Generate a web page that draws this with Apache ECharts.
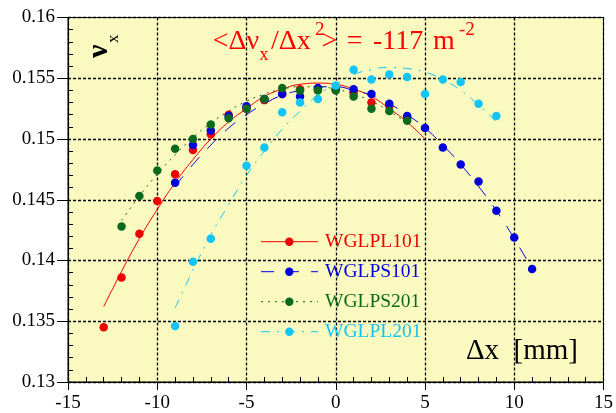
<!DOCTYPE html>
<html>
<head>
<meta charset="utf-8">
<script src="https://cdn.jsdelivr.net/npm/echarts@6/dist/echarts.min.js"></script>
<style>
  html, body { margin: 0; padding: 0; background: #ffffff; }
  #chart { width: 616px; height: 413px; }
</style>
</head>
<body>
<div id="chart"></div>
<script>
// Horizontal tune (nu_x) versus orbit offset dx [mm] for four wiggler settings.

// Measured points
const xPL101 = [-13, -12, -11, -10, -9, -8, -7, -6, -5, -4, -3, -2, -1, 0, 1, 2, 3, 4];
const nuPL101 = [0.1345, 0.1386, 0.1422, 0.1449, 0.1471, 0.1491, 0.1504, 0.1520, 0.1525, 0.1532, 0.1537, 0.1541, 0.1541, 0.1541, 0.1538, 0.1530, 0.1527, 0.1517];

const xPS101 = [-9, -8, -7, -6, -5, -4, -3, -2, -1, 0, 1, 2, 3, 4, 5, 6, 7, 8, 9, 10, 11];
const nuPS101 = [0.1464, 0.1495, 0.1507, 0.1519, 0.1527, 0.1533, 0.1537, 0.1535, 0.1542, 0.1541, 0.1541, 0.1537, 0.1529, 0.1519, 0.1509, 0.1493, 0.1479, 0.1465, 0.1441, 0.1419, 0.1393];

const xPS201 = [-12, -11, -10, -9, -8, -7, -6, -5, -4, -3, -2, -1, 0, 1, 2, 3, 4];
const nuPS201 = [0.1428, 0.1453, 0.1474, 0.1492, 0.1500, 0.1512, 0.1517, 0.1525, 0.1533, 0.1542, 0.1540, 0.1540, 0.1540, 0.1535, 0.1525, 0.1523, 0.1515];

const xPL201 = [-9, -8, -7, -5, -4, -3, -2, -1, 0, 1, 2, 3, 4, 5, 6, 7, 8, 9];
const nuPL201 = [0.1346, 0.1399, 0.1418, 0.1478, 0.1493, 0.1522, 0.1530, 0.1533, 0.1544, 0.1557, 0.1549, 0.1553, 0.1551, 0.1537, 0.1549, 0.1547, 0.1529, 0.1519];

// Parabolic fit curves, sampled every 1 mm over each fit range
const fitXPL101 = [-13, -12, -11, -10, -9, -8, -7, -6, -5, -4, -3, -2, -1, 0, 1, 2, 3, 4, 5];
const fitPL101 = [0.1362, 0.1391, 0.1418, 0.1442, 0.1464, 0.1483, 0.1500, 0.1514, 0.1525, 0.1535, 0.1541, 0.1545, 0.1546, 0.1545, 0.1541, 0.1535, 0.1525, 0.1514, 0.1500];

const fitXPS101 = [-9, -8, -7, -6, -5, -4, -3, -2, -1, 0, 1, 2, 3, 4, 5, 6, 7, 8, 9, 10, 11];
const fitPS101 = [0.1461, 0.1479, 0.1495, 0.1509, 0.1520, 0.1529, 0.1536, 0.1540, 0.1543, 0.1543, 0.1540, 0.1536, 0.1529, 0.1520, 0.1509, 0.1495, 0.1479, 0.1461, 0.1441, 0.1418, 0.1393];

const fitXPS201 = [-12, -11, -10, -9, -8, -7, -6, -5, -4, -3, -2, -1, 0, 1, 2, 3, 4];
const fitPS201 = [0.1433, 0.1453, 0.1471, 0.1487, 0.1501, 0.1513, 0.1523, 0.1531, 0.1537, 0.1541, 0.1543, 0.1543, 0.1541, 0.1537, 0.1531, 0.1523, 0.1513];

const fitXPL201 = [-9, -8, -7, -6, -5, -4, -3, -2, -1, 0, 1, 2, 3, 4, 5, 6, 7, 8, 9];
const fitPL201 = [0.1361, 0.1392, 0.1421, 0.1446, 0.1470, 0.1490, 0.1508, 0.1523, 0.1536, 0.1545, 0.1553, 0.1557, 0.1559, 0.1558, 0.1555, 0.1549, 0.1540, 0.1528, 0.1514];

// Axis ranges and ticks
const xMin = -15, xMax = 15, xStep = 5;
const yMin = 0.13, yMax = 0.16, yStep = 0.005;

const setNames = ['WGLPL101', 'WGLPS101', 'WGLPS201', 'WGLPL201'];

const SERIF = '"Liberation Serif", "Times New Roman", serif';
const COLORS = ['#ee0000', '#0000dd', '#0b6a1e', '#14c4f4'];
const DASHES = ['solid', [13, 12], [2, 5], [9, 7, 2, 7]];

function zip(xs, ys) { return xs.map((x, i) => [x, ys[i]]); }

const pointSets = [zip(xPL101, nuPL101), zip(xPS101, nuPS101), zip(xPS201, nuPS201), zip(xPL201, nuPL201)];
const fitSets = [zip(fitXPL101, fitPL101), zip(fitXPS101, fitPS101), zip(fitXPS201, fitPS201), zip(fitXPL201, fitPL201)];

const series = [];
fitSets.forEach((d, i) => {
  series.push({
    name: setNames[i] + ' fit', type: 'line', data: d, smooth: true,
    showSymbol: false, symbol: 'none', z: 2, silent: true,
    lineStyle: { color: COLORS[i], width: 1, type: DASHES[i] }
  });
});
pointSets.forEach((d, i) => {
  series.push({
    name: setNames[i], type: 'scatter', data: d, symbol: 'circle', symbolSize: 8.5, z: 3 + i,
    itemStyle: { color: COLORS[i], opacity: 1 }
  });
});

// Legend block
const legendTop = 241.7, legendGap = 30;
const legendGraphics = [];
setNames.forEach((n, i) => {
  const y = legendTop + i * legendGap;
  legendGraphics.push({
    type: 'line', shape: { x1: 261, y1: y, x2: 318, y2: y },
    style: { stroke: COLORS[i], lineWidth: 1, lineDash: DASHES[i] === 'solid' ? null : DASHES[i] }, z: 10
  });
  legendGraphics.push({
    type: 'circle', shape: { cx: 289.3, cy: y, r: 4.2 }, style: { fill: COLORS[i] }, z: 11
  });
  legendGraphics.push({
    type: 'text', x: 325, y: y, z: 11,
    style: { text: n, fill: COLORS[i], font: '19.5px ' + SERIF, verticalAlign: 'middle', align: 'left' }
  });
});

function txt(s, x, y, size, color, align, weight) {
  return { type: 'text', x: x, y: y, z: 12,
    style: { text: s, fill: color, font: (weight ? weight + ' ' : '') + size + 'px ' + SERIF,
      verticalAlign: 'middle', align: align || 'left' } };
}

const RED = '#ff0000';
const titleGraphics = [
  txt('<\u0394\u03bd', 212.7, 41.5, 28, RED),
  txt('x', 259.5, 55.6, 18, RED),
  txt('/\u0394x', 271, 41.5, 28, RED),
  txt('2', 315, 30.4, 19, RED),
  txt('>', 321.5, 41.5, 28, RED),
  txt('=', 346.7, 41.5, 28, RED),
  txt('-117', 373, 41.5, 28, RED),
  txt('m', 433, 41.5, 28, RED),
  txt('-2', 459, 30.4, 19, RED)
];

const axisNameGraphic = {
  type: 'group', x: 99, y: 58, rotation: Math.PI / 2, z: 12,
  children: [
    { type: 'text', x: 0, y: 0, style: { text: '\u03bd', fill: '#000', font: 'bold 30px ' + SERIF, verticalAlign: 'middle', align: 'left' } },
    { type: 'text', x: 15, y: 15, style: { text: 'x', fill: '#000', font: '17px ' + SERIF, verticalAlign: 'middle', align: 'left' } }
  ]
};

const unitGraphic = txt('\u0394x  [mm]', 578, 351, 29, '#000', 'right');

const GRID_LINE = { color: '#000', type: [3, 2], width: 1.3 };

const chart = echarts.init(document.getElementById('chart'), null, { renderer: 'canvas' });
chart.setOption({
  animation: false,
  backgroundColor: '#ffffff',
  grid: {
    left: 68, right: 12, top: 17.5, bottom: 31,
    show: true, backgroundColor: '#fafac0', borderColor: '#000', borderWidth: 1
  },
  xAxis: [{
    // major ticks outside, labels and grid
    type: 'value', min: xMin, max: xMax, interval: xStep, position: 'bottom',
    axisLine: { show: true, onZero: false, lineStyle: { color: '#000', width: 1 } },
    axisTick: { show: true, inside: false, length: 8, lineStyle: { color: '#000' } },
    minorTick: { show: false },
    splitLine: { show: true, lineStyle: GRID_LINE },
    axisLabel: { color: '#000', fontFamily: SERIF, fontSize: 19, margin: 12 }
  }, {
    // minor ticks drawn inward
    type: 'value', min: xMin, max: xMax, interval: xStep, position: 'bottom',
    axisLine: { show: false, onZero: false },
    axisTick: { show: false, inside: true },
    minorTick: { show: true, splitNumber: 5, length: 5, lineStyle: { color: '#000' } },
    splitLine: { show: false },
    axisLabel: { show: false }
  }],
  yAxis: [{
    type: 'value', min: yMin, max: yMax, interval: yStep, position: 'left',
    axisLine: { show: true, onZero: false, lineStyle: { color: '#000', width: 1 } },
    axisTick: { show: true, inside: false, length: 11, lineStyle: { color: '#000' } },
    minorTick: { show: false },
    splitLine: { show: true, lineStyle: GRID_LINE },
    axisLabel: { color: '#000', fontFamily: SERIF, fontSize: 19, margin: 13, padding: [3, 0, 0, 0] }
  }, {
    type: 'value', min: yMin, max: yMax, interval: yStep, position: 'left',
    axisLine: { show: false, onZero: false },
    axisTick: { show: false, inside: true },
    minorTick: { show: true, splitNumber: 5, length: 5, lineStyle: { color: '#000' } },
    splitLine: { show: false },
    axisLabel: { show: false }
  }],
  series: series,
  graphic: [].concat(legendGraphics, titleGraphics, [axisNameGraphic, unitGraphic])
});
</script>
</body>
</html>
